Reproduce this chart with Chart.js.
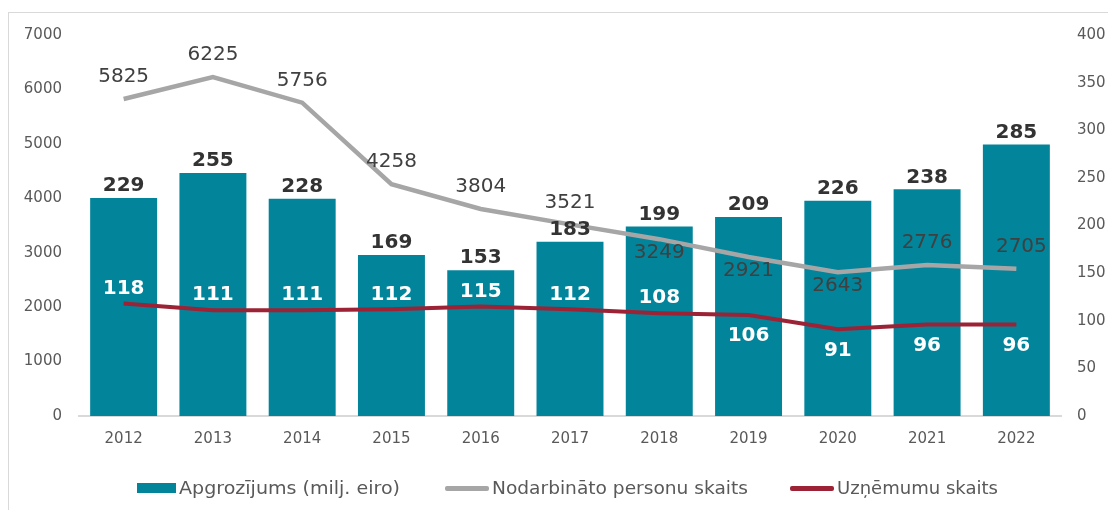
<!DOCTYPE html>
<html>
<head>
<meta charset="utf-8">
<script src="https://cdn.jsdelivr.net/npm/chart.js@4.4.0/dist/chart.umd.min.js"></script>
<style>
  html, body { margin: 0; padding: 0; background: #fff; overflow: hidden; }
  #frame { position: absolute; left: 8px; top: 12px; width: 1200px; height: 600px; border: 1px solid #d9d9d9; }
  #wrap { position: absolute; left: 0; top: 0; width: 1108px; height: 510px; }
  #legend { position: absolute; left: 0; top: 478px; width: 1108px; height: 20px;
            font-family: "DejaVu Sans", sans-serif; font-size: 18px; color: #595959; }
  #legend .item { position: absolute; top: 0; height: 20px; white-space: nowrap; }
  #legend .mark { position: absolute; left: 0; }
  #legend .txt { position: absolute; top: 0; line-height: 20px; display: inline-block; transform-origin: left center; }
</style>
</head>
<body>
<div id="frame"></div>
<div id="wrap"><canvas id="chart"></canvas></div>
<div id="legend"></div>
<script>
const years = ['2012', '2013', '2014', '2015', '2016', '2017', '2018', '2019', '2020', '2021', '2022'];
const turnover = [229, 255, 228, 169, 153, 183, 199, 209, 226, 238, 285];
const employees = [5825, 6225, 5756, 4258, 3804, 3521, 3249, 2921, 2643, 2776, 2705];
const companies = [118, 111, 111, 112, 115, 112, 108, 106, 91, 96, 96];

const TEAL = '#02849A';
const GREY = '#A6A6A6';
const RED = '#9B2335';

// data labels drawn by hand (no datalabels plugin available)
const valueLabels = {
    id: 'valueLabels',
    afterDatasetsDraw(chart) {
        const c = chart.ctx;
        c.save();
        c.textAlign = 'center';
        c.textBaseline = 'middle';

        // bars: bold dark above the bar
        chart.getDatasetMeta(0).data.forEach((bar, i) => {
            c.font = 'bold 20px "DejaVu Sans"';
            c.fillStyle = '#333333';
            c.fillText(turnover[i], bar.x, bar.y - 12);
        });

        // employees: regular grey, a few placed below the line
        const greyBelow = [6, 7, 8];
        chart.getDatasetMeta(1).data.forEach((pt, i) => {
            c.font = '20px "DejaVu Sans"';
            c.fillStyle = '#404040';
            const dy = greyBelow.includes(i) ? 14 : -22;
            c.fillText(employees[i], pt.x + (i === 10 ? 5 : 0), pt.y + dy);
        });

        // companies: bold white, from 2019 on below the line
        chart.getDatasetMeta(2).data.forEach((pt, i) => {
            c.font = 'bold 20px "DejaVu Sans"';
            c.fillStyle = '#ffffff';
            const dy = i >= 7 ? 21 : -15;
            c.fillText(companies[i], pt.x, pt.y + dy);
        });
        c.restore();
    }
};

const ctx = document.getElementById('chart');

const myChart = new Chart(ctx, {
    type: 'bar',
    data: {
        labels: years,
        datasets: [{
            type: 'bar',
            label: 'Apgrozījums (milj. eiro)',
            data: turnover,
            backgroundColor: TEAL,
            borderWidth: 0,
            yAxisID: 'y1',
            barPercentage: 0.75,
            categoryPercentage: 1,
            order: 3
        }, {
            type: 'line',
            label: 'Nodarbināto personu skaits',
            data: employees,
            borderColor: GREY,
            borderWidth: 4.5,
            pointRadius: 0,
            yAxisID: 'y',
            order: 2
        }, {
            type: 'line',
            label: 'Uzņēmumu skaits',
            data: companies,
            borderColor: RED,
            borderWidth: 4,
            pointRadius: 0,
            yAxisID: 'y1',
            order: 1
        }]
    },
    options: {
        responsive: true,
        maintainAspectRatio: false,
        animation: false,
        layout: {
            padding: { top: 35, right: 0, bottom: 48, left: 0 }
        },
        plugins: {
            tooltip: { enabled: false },
            legend: { display: false }
        },
        scales: {
            x: {
                grid: { display: false, drawTicks: false },
                border: { display: true, color: '#d9d9d9', width: 2 },
                ticks: {
                    color: '#595959',
                    padding: 14,
                    font: { family: '"DejaVu Sans"', size: 15 }
                }
            },
            y: {
                position: 'left',
                min: 0,
                max: 7000,
                grid: { display: false, drawTicks: false },
                border: { display: false },
                ticks: {
                    stepSize: 1000,
                    color: '#595959',
                    padding: 17,
                    font: { family: '"DejaVu Sans"', size: 15 },
                    callback: v => v
                },
                afterFit: s => { s.width = 79; }
            },
            y1: {
                position: 'right',
                min: 0,
                max: 400,
                grid: { display: false, drawTicks: false },
                border: { display: false },
                ticks: {
                    stepSize: 50,
                    color: '#595959',
                    padding: 16,
                    font: { family: '"DejaVu Sans"', size: 15 },
                    callback: v => v
                },
                afterFit: s => { s.width = 47; }
            }
        }
    },
    plugins: [valueLabels]
});

// legend as html, built from the chart's datasets
const legendX = [137, 445, 790];
const legendTextW = [221, 256, 161];
const legend = document.getElementById('legend');
myChart.data.datasets.forEach((ds, i) => {
    const item = document.createElement('div');
    item.className = 'item';
    item.style.left = legendX[i] + 'px';
    const mark = document.createElement('div');
    mark.className = 'mark';
    if (ds.type === 'bar') {
        mark.style.width = '39px';
        mark.style.height = '10px';
        mark.style.top = '5px';
        mark.style.background = ds.backgroundColor;
    } else {
        mark.style.width = '44px';
        mark.style.height = '5px';
        mark.style.top = '8px';
        mark.style.borderRadius = '2px';
        mark.style.background = ds.borderColor;
    }
    const txt = document.createElement('span');
    txt.className = 'txt';
    txt.style.left = (ds.type === 'bar' ? 42 : 47) + 'px';
    txt.textContent = ds.label;
    item.appendChild(mark);
    item.appendChild(txt);
    legend.appendChild(item);
    const w = txt.getBoundingClientRect().width;
    txt.style.transform = 'scaleX(' + (legendTextW[i] / w) + ')';
});
</script>
</body>
</html>
